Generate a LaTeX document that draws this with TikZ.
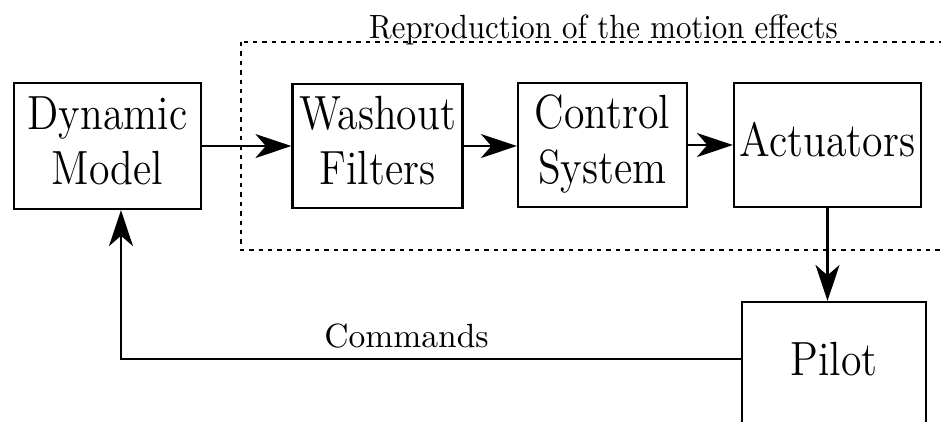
\documentclass[tikz,border=0pt]{standalone}
\usetikzlibrary{arrows.meta,calc}
\newcommand{\bigt}[1]{\scalebox{0.87}[1]{\fontsize{12}{13.75}\selectfont\begin{tabular}{@{}c@{}}#1\end{tabular}}}
\newcommand{\smallt}[2][0.84]{\scalebox{#1}[0.84]{\fontsize{10}{12}\selectfont #2}}
\begin{document}
\begin{tikzpicture}[x=0.25pt,y=-0.25pt,
  blk/.style={draw,line width=0.55pt,inner sep=0pt,minimum height=31pt},
  conn/.style={line width=0.55pt,-{Stealth[length=9pt,width=6pt,inset=2.6pt]}},
  lbl/.style={inner sep=0pt},
  region/.style={line width=0.55pt,dash pattern=on 1.1pt off 1.25pt}]
\useasboundingbox (0,0) rectangle (941,421);
\clip (0,0) rectangle (941,421);
\node[blk,minimum width=46.75pt,minimum height=31.5pt] (dm) at (107.5,146) {\bigt{Dynamic\\Model}};
\node[blk,minimum width=42.5pt] (wf) at (377.5,146) {\bigt{Washout\\Filters}};
\node[blk,minimum width=42.25pt] (cs) at (602.5,145) {\bigt{Control\\System}};
\node[blk,minimum width=46.75pt] (ac) at (827.5,145) {\bigt{Actuators}};
\node[blk,minimum width=46pt] (pi) at (834,364) {\bigt{Pilot}};
\draw[region] (241,42) rectangle (1000,250);
\node[lbl,anchor=base] (rep) at (603.5,38) {\smallt[0.77]{Reproduction of the motion effects}};
\draw[conn] (dm.east) -- (wf.west);
\draw[conn] (wf.east) -- (wf.east -| cs.west);
\draw[conn] (cs.east) -- (cs.east -| ac.west);
\draw[conn] (ac.south) -- (ac.south |- pi.north);
\coordinate (cmdstart) at ($(pi.west)+(0,-5)$);
\coordinate (cmdend) at ($(dm.south)+(13.5,0)$);
\draw[conn] (cmdstart) -| (cmdend);
\node[lbl,anchor=base] (cmd) at (406.5,347) {\smallt{Commands}};
\end{tikzpicture}
\end{document}
